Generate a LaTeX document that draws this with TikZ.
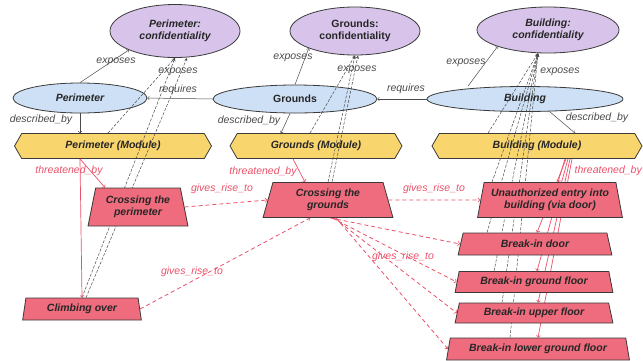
\documentclass[tikz,border=0pt]{standalone}
\usepackage{fontspec}
\setmainfont{Liberation Sans}
\usepackage{xcolor}
\usepackage{tikz}
\usetikzlibrary{shapes,arrows,positioning}

\definecolor{conffill}{HTML}{D8C4EA}
\definecolor{entfill}{HTML}{CDE0F5}
\definecolor{modfill}{HTML}{F9D56E}
\definecolor{thrfill}{HTML}{EE6C7D}
\definecolor{redline}{HTML}{EA5068}
\definecolor{grayline}{HTML}{4A4A4A}
\definecolor{edgedark}{HTML}{3A3A3A}

\newcommand{\diagnodefont}{\fontsize{10.5}{12}\selectfont\bfseries\itshape}
\newcommand{\diaglabelfont}{\fontsize{10.5}{12}\selectfont\itshape}

\pgfdeclarelayer{front}
\pgfsetlayers{main,front}

\begin{document}
\begin{tikzpicture}[
    x=1pt, y=-1pt,
    conf/.style={ellipse, draw=edgedark, fill=conffill, line width=0.8pt, inner sep=0pt, align=center, text=black!85, font=\diagnodefont},
    entity/.style={ellipse, draw=edgedark, fill=entfill, line width=0.8pt, inner sep=0pt, text=black!85, font=\diagnodefont},
    module/.style={signal, signal to=east and west, signal pointer angle=120, draw=edgedark, fill=modfill, line width=0.8pt, minimum height=25pt, inner sep=0pt, text=black!85, font=\diagnodefont},
    threat/.style={trapezium, trapezium left angle=76, trapezium right angle=76, trapezium stretches=true, draw=edgedark, fill=thrfill, line width=0.8pt, inner sep=1pt, align=center, text=black!85, font=\diagnodefont},
    lbl/.style={text=grayline, font=\diaglabelfont, inner sep=0pt},
    rlbl/.style={lbl, text=redline},
    link/.style={->, draw=grayline, line width=0.5pt},
    expo/.style={-stealth, draw=grayline, line width=0.5pt, dash pattern=on 3pt off 1.5pt},
    thr/.style={->, draw=redline, line width=0.7pt},
    rise/.style={->, draw=redline, line width=0.8pt, dash pattern=on 4pt off 3pt}
]
    \useasboundingbox (0,0) rectangle (643,360);

    \node[conf, minimum width=130pt, minimum height=53pt] (pconf) at (175,31) {Perimeter:\\confidentiality};
    \node[conf, minimum width=130pt, minimum height=48pt, font=\fontsize{10.5}{12}\selectfont\bfseries] (gconf) at (355,31) {Grounds:\\confidentiality};
    \node[conf, minimum width=142pt, minimum height=46pt] (bconf) at (548,30) {Building:\\confidentiality};

    \node[entity, minimum width=134pt, minimum height=30pt] (per) at (80,98) {Perimeter};
    \node[entity, minimum width=164pt, minimum height=28pt, font=\fontsize{10.5}{12}\selectfont\bfseries] (grounds) at (295,99) {Grounds};
    \node[entity, minimum width=196pt, minimum height=25pt] (build) at (525,99) {Building};

    \node[module, minimum width=197pt] (pmod) at (113,146) {Perimeter (Module)};
    \node[module, minimum width=172pt] (gmod) at (316,146) {Grounds (Module)};
    \node[module, minimum width=210pt] (bmod) at (537,146) {Building (Module)};

    \begin{pgfonlayer}{front}
    \node[threat, minimum width=100pt, minimum height=38pt] (crossper) at (138,207) {Crossing the\\perimeter};
    \node[threat, minimum width=119pt, minimum height=22pt, trapezium left angle=80, trapezium right angle=80] (climb) at (82,309) {Climbing over};
    \node[threat, minimum width=130pt, minimum height=35pt] (crossgr) at (328,200) {Crossing the\\grounds};
    \node[threat, minimum width=145pt, minimum height=35pt] (unauth) at (550,200) {Unauthorized entry into\\building (via door)};
    \node[threat, minimum width=154pt, minimum height=22pt] (door) at (535,244) {Break-in door};
    \node[threat, minimum width=158pt, minimum height=21pt] (ground) at (534,282) {Break-in ground floor};
    \node[threat, minimum width=158pt, minimum height=20pt] (upper) at (534,313) {Break-in upper floor};
    \node[threat, minimum width=183pt, minimum height=22pt] (lower) at (538,349) {Break-in lower ground floor};
    \end{pgfonlayer}

    \draw[link] (per.north) -- (pconf.south west);
    \draw[link] (grounds.west) -- (per.east);
    \draw[link] (build.west) -- (grounds.east);
    \draw[link] (per.south) -- (per.south |- pmod.north);
    \draw[link] ([xshift=-5pt]grounds.south) -- ([xshift=-35pt]gmod.north);
    \draw[link] ([xshift=25pt]build.south) -- ([xshift=38pt]bmod.north);
    \draw[link] (grounds.north) -- (gconf.south west);
    \draw[link] ([xshift=-57pt]build.north) -- (bconf.south west);

    \draw[expo] (climb.north) -- (pconf.south);
    \draw[expo] ([xshift=4pt]climb.north) -- ([xshift=12pt]pconf.south);
    \draw[expo] ([xshift=-5pt]pmod.north) -- (pconf.south);
    \draw[expo] ([xshift=-6pt]gmod.north) -- (gconf.south);
    \draw[expo] (crossgr.north) -- (gconf.south);
    \draw[expo] ([xshift=4pt]crossgr.north) -- ([xshift=3pt]gconf.south);
    \draw[expo] ([xshift=-49pt]bmod.north) -- ([xshift=-10pt]bconf.south);
    \draw[expo] ([xshift=-58pt]unauth.north) -- ([xshift=-10pt]bconf.south);
    \draw[expo] ([xshift=-48pt]door.north) -- ([xshift=-10pt]bconf.south);
    \draw[expo] ([xshift=-40pt]ground.north) -- ([xshift=-10pt]bconf.south);
    \draw[expo] ([xshift=-32pt]upper.north) -- ([xshift=-10pt]bconf.south);
    \draw[expo] ([xshift=-28pt]lower.north) -- ([xshift=-10pt]bconf.south);

    \draw[thr] ([xshift=-33pt]pmod.south) -- ([xshift=-33pt]crossper.north);
    \draw[thr] ([xshift=-33pt]pmod.south) -- (climb.north);
    \draw[thr] ([xshift=-23pt]gmod.south) -- ([xshift=-23pt]crossgr.north);
    \draw[thr] ([xshift=28pt]bmod.south) -- ([xshift=8pt]unauth.north);
    \draw[thr] ([xshift=29pt]bmod.south) -- ([xshift=2pt]door.north);
    \draw[thr] ([xshift=31pt]bmod.south) -- ([xshift=3pt]ground.north);
    \draw[thr] ([xshift=33pt]bmod.south) -- ([xshift=4pt]upper.north);
    \draw[thr] ([xshift=35pt]bmod.south) -- (lower.north);

    \draw[rise] (crossper.east) -- (crossgr.west);
    \draw[rise] (climb.east) -- (crossgr.south west);
    \draw[rise] (crossgr.east) -- (unauth.west);
    \draw[rise] ([xshift=2pt]crossgr.south) -- (door.west);
    \draw[rise] ([xshift=4pt]crossgr.south) -- (ground.west);
    \draw[rise] ([xshift=6pt]crossgr.south) -- (upper.west);
    \draw[rise] ([xshift=8pt]crossgr.south) -- (lower.west);

    \node[lbl] (lexpa) at (116,62) {exposes};
    \node[lbl] (lexpb) at (178,72) {exposes};
    \node[lbl] (lreqa) at (178,90) {requires};
    \node[lbl] (ldesca) at (41,120) {described\_by};
    \node[lbl] (lexpc) at (293,58) {exposes};
    \node[lbl] (lexpd) at (357,70) {exposes};
    \node[lbl] (lreqb) at (406,89) {requires};
    \node[lbl] (ldescb) at (249,121) {described\_by};
    \node[lbl] (lexpe) at (466,63) {exposes};
    \node[lbl] (lexpf) at (560,72) {exposes};
    \node[lbl] (ldescc) at (597,118) {described\_by};

    \node[rlbl] (lthra) at (69,171) {threatened\_by};
    \node[rlbl] (lthrb) at (263,172) {threatened\_by};
    \node[rlbl, anchor=east] (lthrc) at (642,171) {threatened\_by};
    \node[rlbl] (lgiva) at (222,189) {gives\_rise\_to};
    \node[rlbl] (lgivb) at (192,272) {gives\_rise\_to};
    \node[rlbl] (lgivc) at (434,189) {gives\_rise\_to};
    \node[rlbl] (lgivd) at (403,257) {gives\_rise\_to};
\end{tikzpicture}
\end{document}
